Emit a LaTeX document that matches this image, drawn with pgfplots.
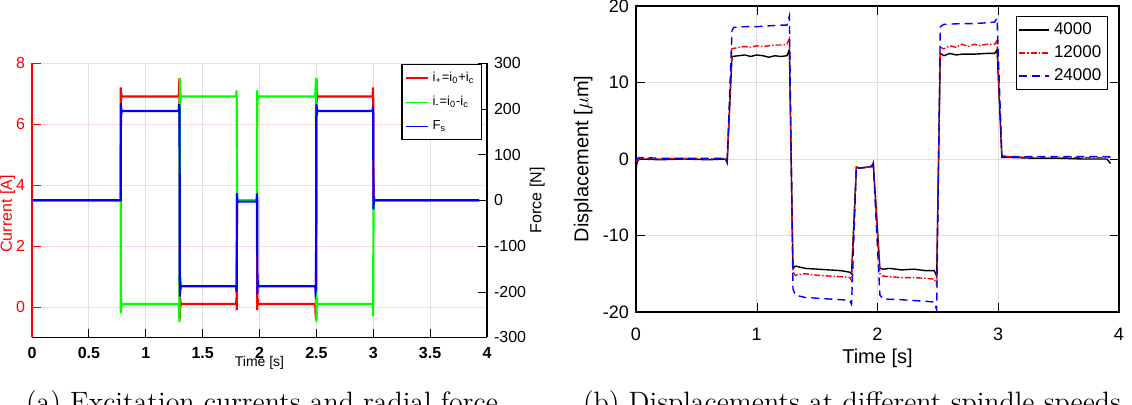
\documentclass[border=0pt]{standalone}
\usepackage{fontspec}
\usepackage{pgfplots}
\pgfplotsset{compat=1.18}
\newfontfamily\helv{Liberation Sans}

\pgfplotstableread{
t y
0 -1.5
0.01 -0.3
0.03 0
0.2 -0.1
0.4 0
0.6 -0.1
0.74 0
0.755 -0.5
0.795 13.4
0.85 13.5
0.9 13.6
0.95 13.4
1.0 13.6
1.05 13.5
1.1 13.3
1.15 13.5
1.2 13.4
1.25 13.5
1.27 14.3
1.3 -14.3
1.32 -14.0
1.4 -14.3
1.5 -14.4
1.6 -14.5
1.7 -14.6
1.77 -14.8
1.785 -15.0
1.825 -1.1
1.85 -1.2
1.9 -1.1
1.95 -1.0
1.965 -0.5
2.02 -14.3
2.05 -14.4
2.1 -14.3
2.2 -14.5
2.3 -14.4
2.4 -14.6
2.47 -14.6
2.49 -15.3
2.52 13.8
2.55 13.5
2.6 13.8
2.65 13.6
2.7 13.7
2.8 13.7
2.9 13.8
2.97 13.8
2.99 14.3
3.03 0.2
3.1 0.2
3.3 0.1
3.5 0.1
3.7 0
3.9 0
3.93 -0.6
}\blackdata

\pgfplotstableread{
t y
0 -0.3
0.03 0.1
0.2 0
0.4 0.1
0.6 0
0.74 0.1
0.755 -0.3
0.795 14.4
0.85 14.6
0.9 14.7
0.95 14.6
1.0 14.8
1.05 14.7
1.1 14.8
1.15 14.9
1.2 14.9
1.25 15.0
1.27 15.7
1.3 -14.8
1.32 -15.2
1.4 -15.0
1.5 -15.2
1.6 -15.3
1.7 -15.4
1.77 -15.5
1.785 -15.9
1.825 -1.0
1.85 -1.2
1.9 -1.1
1.95 -0.9
1.965 -0.6
2.02 -15.0
2.05 -15.3
2.1 -15.4
2.2 -15.5
2.3 -15.5
2.4 -15.6
2.47 -15.7
2.49 -16.5
2.52 14.6
2.55 14.4
2.6 14.8
2.65 14.6
2.7 15.0
2.75 14.7
2.8 15.0
2.85 14.8
2.9 15.0
2.97 15.0
2.99 15.5
3.03 0.3
3.1 0.3
3.3 0.2
3.5 0.2
3.7 0.2
3.93 0.2
}\reddata

\pgfplotstableread{
t y
0 0
0.03 0.2
0.2 0.1
0.4 0.1
0.6 0.1
0.74 0.1
0.755 -0.2
0.795 16.8
0.81 17.2
0.9 17.3
1.0 17.3
1.1 17.4
1.2 17.5
1.25 17.5
1.27 18.7
1.3 -17.0
1.32 -17.8
1.4 -18.1
1.5 -18.2
1.6 -18.3
1.7 -18.4
1.77 -18.5
1.785 -19.0
1.825 -1.0
1.85 -1.2
1.9 -1.1
1.95 -1.0
1.965 -0.7
2.02 -17.8
2.05 -18.3
2.2 -18.4
2.3 -18.5
2.4 -18.6
2.47 -18.7
2.49 -19.7
2.52 17.3
2.55 17.6
2.7 17.7
2.8 17.7
2.9 17.8
2.97 17.9
2.99 18.4
3.03 0.4
3.1 0.3
3.3 0.3
3.5 0.3
3.7 0.3
3.93 0.3
}\bluedata

\begin{document}
\begin{tikzpicture}
\useasboundingbox (0,0) rectangle (566pt,202.5pt);
\clip (0,0) rectangle (566pt,202.5pt);

% ---------- (a) current axis ----------
\begin{axis}[
  at={(16pt,33.75pt)}, anchor=south west,
  scale only axis, width=227.5pt, height=137.25pt,
  xmin=0, xmax=4, ymin=-1, ymax=8,
  axis x line=bottom, axis y line=left,
  axis line style={-},
  x axis line style={black, line width=0.8pt},
  y axis line style={red, line width=0.6pt},
  xtick={0,0.5,...,4}, ytick={0,2,4,6,8},
  tick align=inside,
  xtick style={black, line width=0.6pt}, ytick style={red},
  xmajorgrids, ymajorgrids,
  x grid style={gray!25, line width=0.4pt},
  y grid style={red!15, line width=0.4pt},
  /pgf/number format/assume math mode=true,
  xticklabel style={font=\helv\bfseries\fontsize{8}{9}\selectfont, yshift=-1.5pt},
  yticklabel style={font=\helv\fontsize{8}{9}\selectfont, text=red},
  xlabel={Time [s]}, ylabel={Current [A]},
  xlabel style={font=\helv\fontsize{7}{8}\selectfont, at={(axis description cs:0.5,0)}, anchor=center, yshift=-12.75pt},
  ylabel style={font=\helv\fontsize{8}{9}\selectfont, text=red, at={(axis description cs:-0.036,0.45)}, anchor=south, inner sep=0pt},
]
\addplot[red, line width=1.1pt] coordinates {
(0,3.5)(0.78,3.5)(0.78,7.2)(0.783,6.8)(0.787,6.95)(0.79,6.9)(1.29,6.9)(1.293,7.2)(1.297,7.5)(1.3,-0.4)(1.303,0.3)(1.307,0.05)(1.31,0.1)(1.795,0.1)(1.798,0.3)(1.8,-0.1)(1.802,3.5)(1.978,3.5)(1.98,-0.1)(1.983,0.3)(1.986,0.1)(2.49,0.1)(2.493,-0.2)(2.497,-0.4)(2.5,7.5)(2.503,6.7)(2.507,6.95)(2.51,6.9)(2.995,6.9)(2.998,7.2)(3.0,6.6)(3.002,3.5)(3.93,3.5)};
\addplot[green, line width=1.1pt] coordinates {
(0,3.5)(0.78,3.5)(0.78,-0.2)(0.783,0.3)(0.787,0.05)(0.79,0.1)(1.29,0.1)(1.293,-0.2)(1.297,-0.5)(1.3,7.5)(1.303,6.7)(1.307,6.95)(1.31,6.9)(1.795,6.9)(1.798,7.1)(1.8,6.7)(1.802,3.5)(1.978,3.5)(1.98,7.1)(1.983,6.75)(1.986,6.9)(2.49,6.9)(2.493,7.2)(2.497,7.5)(2.5,-0.5)(2.503,0.3)(2.507,0.05)(2.51,0.1)(2.995,0.1)(2.998,-0.3)(3.0,0.3)(3.002,3.5)(3.93,3.5)};
\end{axis}

% ---------- (a) force axis ----------
\begin{axis}[
  at={(16pt,33.75pt)}, anchor=south west,
  scale only axis, width=227.5pt, height=137.25pt,
  xmin=0, xmax=4, ymin=-300, ymax=300,
  axis x line=none, axis y line=right,
  axis line style={-, black, line width=0.6pt},
  ytick={-300,-200,...,300},
  tick align=inside, ytick style={black},
  /pgf/number format/assume math mode=true,
  yticklabel style={font=\helv\fontsize{8}{9}\selectfont, text=black},
  ylabel={Force [N]},
  ylabel style={font=\helv\fontsize{8}{9}\selectfont, at={(axis description cs:1.1275,0.5)}, anchor=south, inner sep=0pt},
  legend style={font=\helv\fontsize{6.5}{7.5}\selectfont, at={(0.989,0.996)}, anchor=north east, draw=black, line width=0.6pt, fill=white, inner sep=1.5pt, row sep=2pt},
  legend cell align=left,
  legend image code/.code={\draw[#1, line width=0.8pt] (0pt,0pt) -- (11pt,0pt);},
]
\addlegendimage{red}
\addlegendentry{i\textsubscript{+}=i\textsubscript{0}+i\textsubscript{c}}
\addlegendimage{green}
\addlegendentry{i\textsubscript{-}=i\textsubscript{0}-i\textsubscript{c}}
\addplot[blue, line width=1.1pt] coordinates {
(0,0)(0.78,0)(0.78,5)(0.782,212)(0.786,190)(0.79,195)(1.29,195)(1.293,210)(1.297,200)(1.3,-210)(1.303,-170)(1.307,-192)(1.31,-188)(1.795,-188)(1.798,-200)(1.8,-180)(1.802,15)(1.806,-5)(1.81,-3)(1.975,-3)(1.978,15)(1.98,-5)(1.982,-205)(1.985,-175)(1.99,-188)(2.49,-188)(2.493,-200)(2.497,-195)(2.5,210)(2.503,185)(2.507,198)(2.51,195)(2.995,195)(2.998,205)(3.0,180)(3.002,-20)(3.006,8)(3.01,0)(3.93,0)};
\addlegendentry{F\textsubscript{s}}
\end{axis}

% ---------- (b) displacement axis ----------
\begin{axis}[
  at={(318pt,46.5pt)}, anchor=south west,
  scale only axis, width=241.5pt, height=153pt,
  xmin=0, xmax=4, ymin=-20, ymax=20,
  xtick={0,1,2,3,4}, ytick={-20,-10,0,10,20},
  axis line style={black, line width=0.6pt},
  tick align=inside, tick style={black},
  grid=major, grid style={gray!25, line width=0.4pt},
  /pgf/number format/assume math mode=true,
  xticklabel style={font=\helv\fontsize{9}{10}\selectfont, yshift=-4.5pt},
  yticklabel style={font=\helv\fontsize{9}{10}\selectfont},
  xlabel={Time [s]}, ylabel={Displacement [$\mu$m]},
  xlabel style={font=\helv\fontsize{10}{11}\selectfont, at={(axis description cs:0.5,0)}, anchor=center, yshift=-23pt},
  ylabel style={font=\helv\fontsize{10}{11}\selectfont, at={(axis description cs:-0.089,0.5)}, anchor=south, inner sep=0pt},
  legend style={font=\helv\fontsize{8.5}{9.5}\selectfont, at={(0.977,0.967)}, anchor=north east, draw=black, line width=0.6pt, fill=white, inner sep=1pt},
  legend cell align=left,
  legend image code/.code={\draw[#1] (0pt,0pt) -- (15pt,0pt);},
]
\addplot[black, line width=0.7pt] table[x=t,y=y] {\blackdata};
\addlegendentry{4000}
\addplot[red, line width=0.7pt, dash pattern=on 3pt off 1pt on 0.7pt off 1pt] table[x=t,y=y] {\reddata};
\addlegendentry{12000}
\addplot[blue, line width=0.7pt, dash pattern=on 4pt off 2.5pt] table[x=t,y=y] {\bluedata};
\addlegendentry{24000}
\end{axis}

% ---------- captions (cut at bottom) ----------
\node[anchor=base, font=\fontsize{14}{16}\selectfont, inner sep=0pt] at (131pt,-3.5pt) {(a) Excitation currents and radial force};
\node[anchor=base, font=\fontsize{14}{16}\selectfont, inner sep=0pt] at (426pt,-3.5pt) {(b) Displacements at different spindle speeds};
\end{tikzpicture}
\end{document}
